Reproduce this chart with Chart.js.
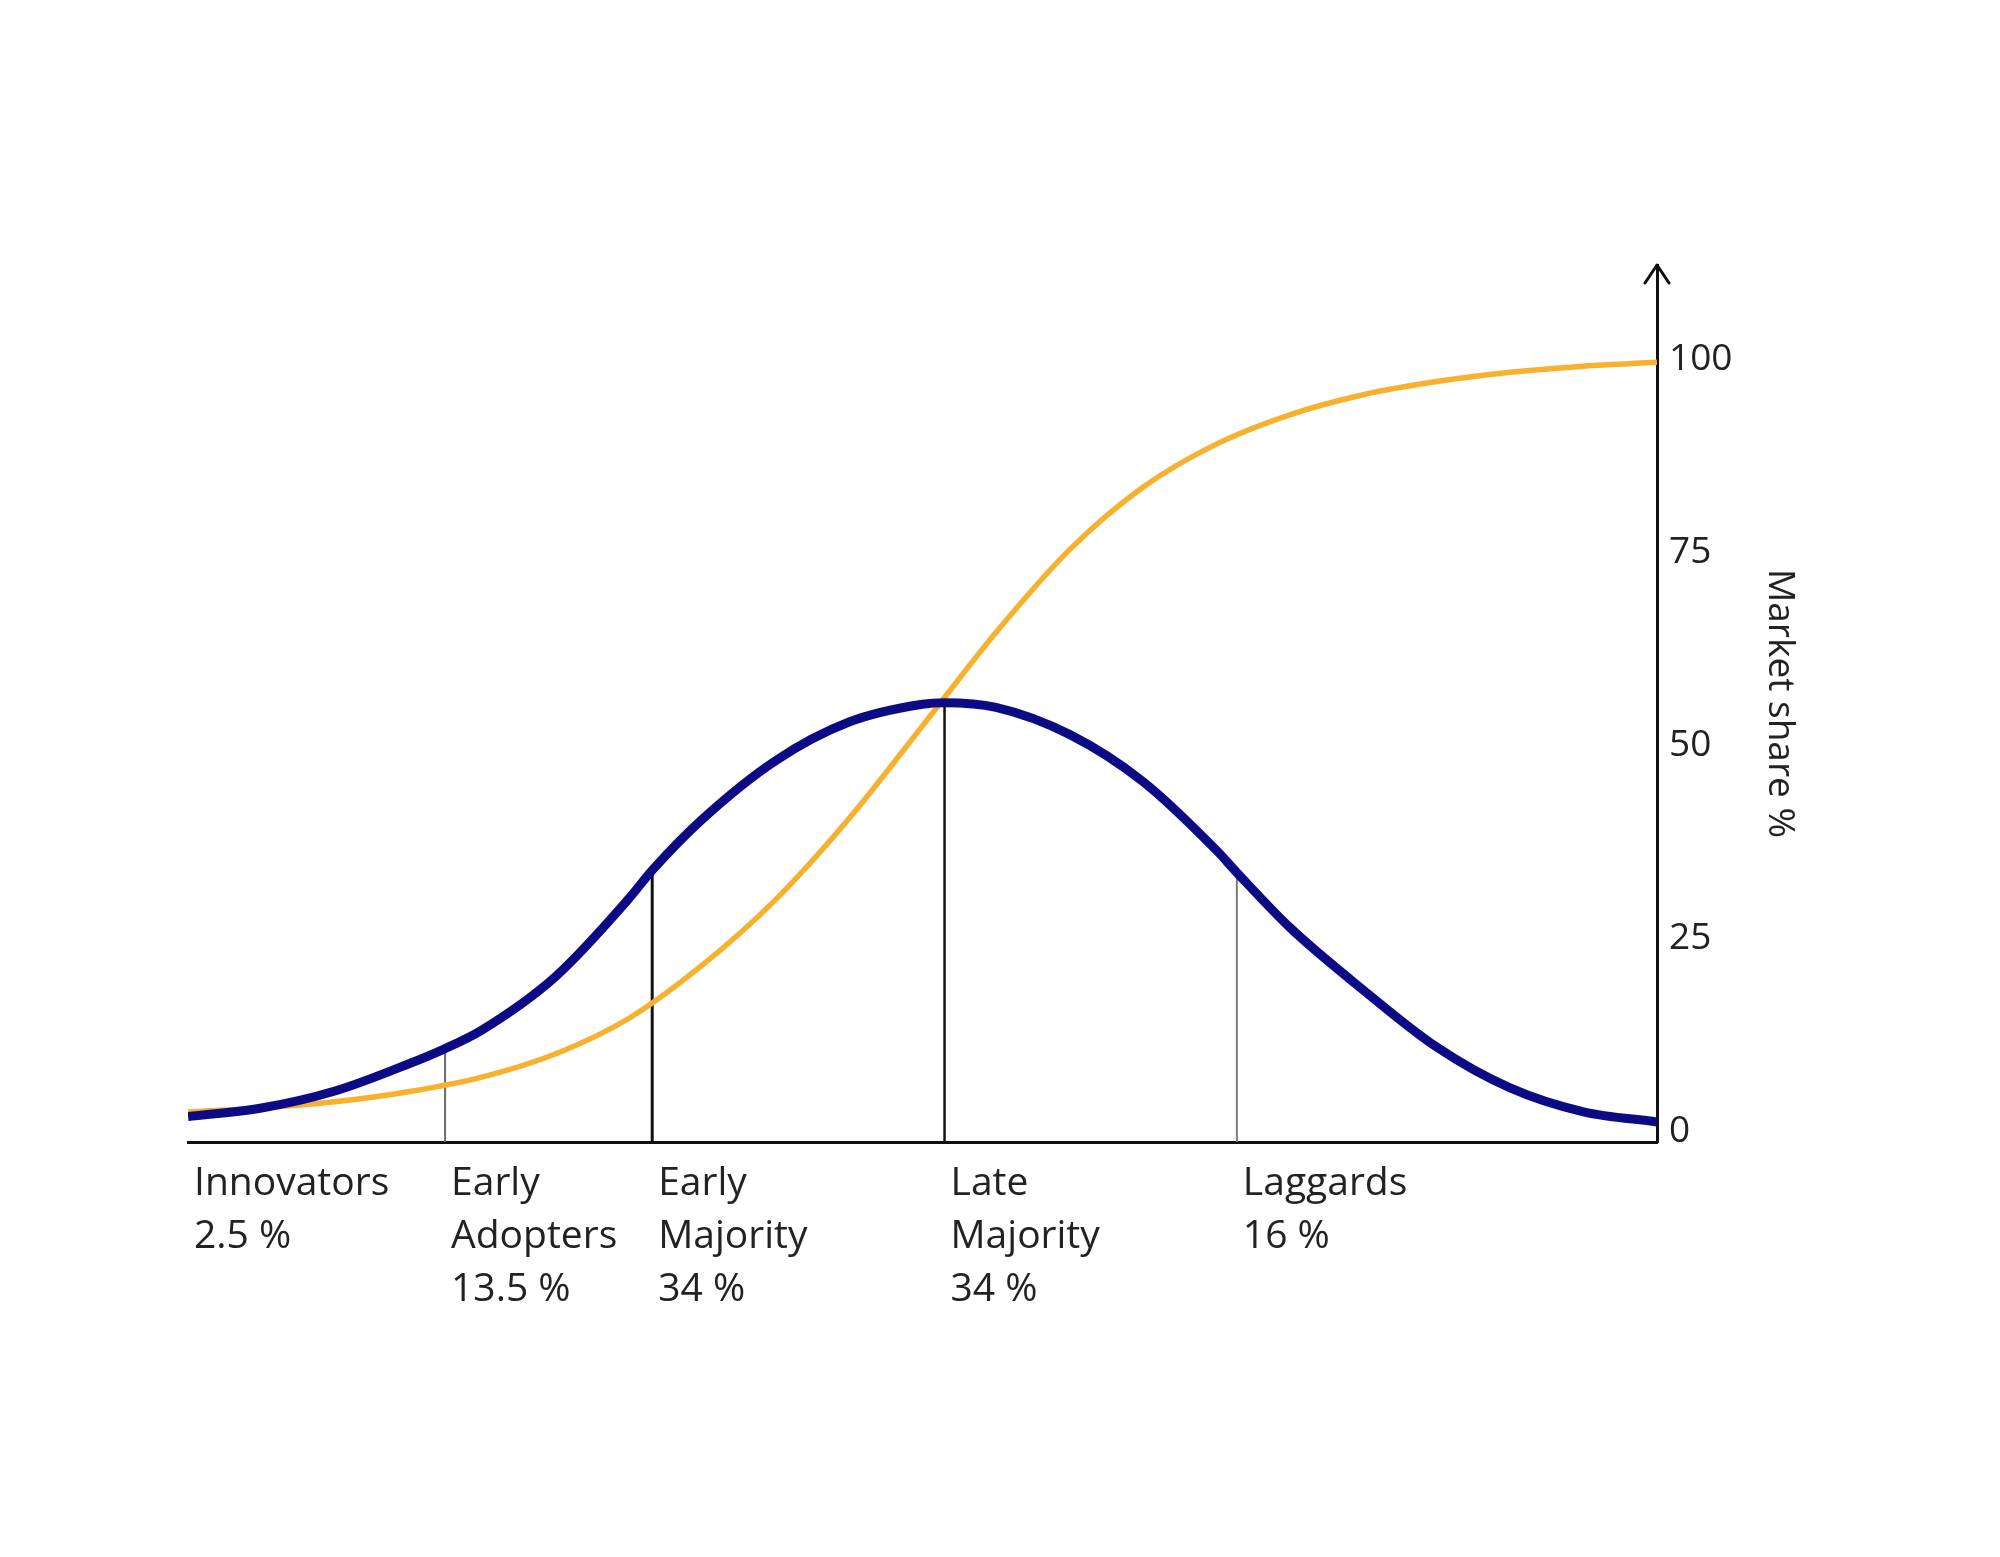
<!DOCTYPE html>
<html>
<head>
<meta charset="utf-8">
<script src="https://cdn.jsdelivr.net/npm/chart.js@4/dist/chart.umd.min.js"></script>
<style>
html,body{margin:0;padding:0;background:#fff;}
canvas{display:block;}
</style>
</head>
<body>
<canvas id="grafico" width="2000" height="1557"></canvas>
<script>

// adopter groups: where each starts on the x axis, name, share
const stageStart = [0, 17.5, 31.6, 51.5, 71.4];
const stageName = [["Innovators"], ["Early", "Adopters"], ["Early", "Majority"], ["Late", "Majority"], ["Laggards"]];
const stageShare = ["2.5 %", "13.5 %", "34 %", "34 %", "16 %"];

// adoption (bell) curve
const adoptX = [0, 5, 10, 15, 17.5, 20, 25, 30, 31.6, 35, 40, 45, 50, 51.5, 55, 60, 65, 70, 71.4, 75, 80, 85, 90, 95, 100];
const adoptY = [1.9, 3.0, 5.2, 8.7, 10.7, 13.1, 20.0, 30.1, 33.8, 40.4, 48.0, 53.0, 55.3, 55.5, 54.9, 51.4, 45.3, 36.4, 33.5, 26.4, 18.3, 10.9, 5.6, 2.5, 1.2];

// market share (S) curve
const shareX = [0, 5, 10, 15, 20, 25, 30, 35, 40, 45, 50, 55, 60, 65, 70, 75, 80, 85, 90, 95, 100];
const shareY = [2.5, 3.0, 3.8, 5.1, 7.0, 10.0, 14.6, 21.5, 30.0, 40.5, 52.5, 64.6, 75.3, 83.4, 89.0, 92.8, 95.4, 97.1, 98.3, 99.1, 99.6];

const yTicks = [0, 25, 50, 75, 100];
const yMin = -1.4;
const yMax = 112.2;

const fontFamily = "'Open Sans', 'Noto Sans', sans-serif";

// divider lines between groups, from the axis up to the bell curve
const dividerColor = ["#6a6a6a", "#111111", "#111111", "#7a7a7a"];
const dividerWidth = [2, 3, 2.5, 2];

const dividers = stageStart.slice(1).map((x, i) => ({
  data: [
    {x: x, y: yMin},
    {x: x, y: adoptY[adoptX.indexOf(x)]}
  ],
  borderColor: dividerColor[i],
  borderWidth: dividerWidth[i],
  pointRadius: 0,
  order: 3
}));

// arrow head on top of the market share axis
const arrowHead = {
  id: "arrowHead",
  afterDraw(chart) {
    const a = chart.chartArea;
    const c = chart.ctx;
    c.save();
    c.strokeStyle = "#111";
    c.lineWidth = 3;
    c.lineCap = "round";
    c.lineJoin = "round";
    c.beginPath();
    c.moveTo(a.right - 12, a.top + 18);
    c.lineTo(a.right, a.top);
    c.lineTo(a.right + 12, a.top + 18);
    c.stroke();
    c.restore();
  }
};

new Chart(document.getElementById("grafico"), {
  type: "line",
  data: {
    datasets: [
      {
        label: "Adoption",
        data: adoptX.map((x, i) => ({x: x, y: adoptY[i]})),
        borderColor: "#0d0a85",
        borderWidth: 9,
        pointRadius: 0,
        cubicInterpolationMode: "monotone",
        order: 1
      },
      {
        label: "Market share",
        data: shareX.map((x, i) => ({x: x, y: shareY[i]})),
        borderColor: "#f8b12e",
        borderWidth: 5.5,
        pointRadius: 0,
        cubicInterpolationMode: "monotone",
        order: 2
      },
      ...dividers
    ]
  },
  options: {
    responsive: false,
    animation: false,
    events: [],
    layout: {
      padding: {left: 188, top: 265, right: 194, bottom: 215}
    },
    plugins: {
      legend: {display: false},
      tooltip: {enabled: false}
    },
    scales: {
      x: {
        type: "linear",
        position: "bottom",
        min: 0,
        max: 100,
        grid: {display: false, drawTicks: false},
        border: {color: "#111", width: 3},
        afterBuildTicks: s => { s.ticks = stageStart.map(v => ({value: v})); },
        afterFit: s => { s.height = 200; },
        ticks: {
          autoSkip: false,
          maxRotation: 0,
          minRotation: 0,
          align: "start",
          labelOffset: 6,
          padding: 15,
          color: "#222",
          font: {family: fontFamily, size: 39, lineHeight: 1.36},
          callback: (v, i) => stageName[i].concat(stageShare[i])
        }
      },
      y: {
        type: "linear",
        position: "right",
        min: yMin,
        max: yMax,
        grid: {display: false, drawTicks: false},
        border: {color: "#111", width: 3},
        afterBuildTicks: s => { s.ticks = yTicks.map(v => ({value: v})); },
        afterFit: s => { s.width = 149; },
        ticks: {
          padding: 12,
          color: "#222",
          font: {family: fontFamily, size: 37}
        },
        title: {
          display: true,
          text: "Market share %",
          color: "#222",
          font: {family: fontFamily, size: 37}
        }
      }
    }
  },
  plugins: [arrowHead]
});

</script>
</body>
</html>
